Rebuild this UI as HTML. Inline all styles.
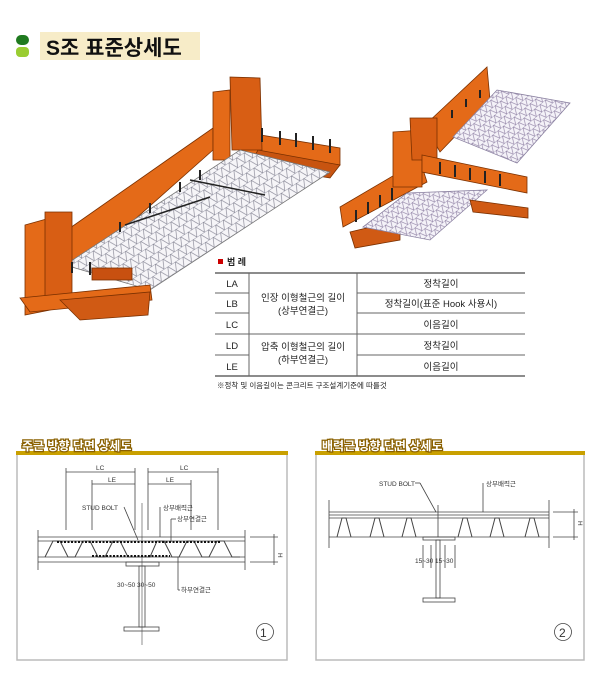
<!DOCTYPE html>
<html><head><meta charset="utf-8"><style>
html,body{margin:0;padding:0;background:#fff;}
svg{display:block;}
text{font-family:"Liberation Sans","Noto Sans CJK KR",sans-serif;}
</style></head><body>
<svg width="600" height="683" viewBox="0 0 600 683" xmlns="http://www.w3.org/2000/svg">
<defs>
<pattern id="grid" width="9" height="9" patternUnits="userSpaceOnUse" patternTransform="rotate(-33)">
<rect width="9" height="9" fill="#f6f5f8"/>
<path d="M0 0H9" stroke="#8a8a9a" stroke-width="0.8"/>
<path d="M0 9L4.5 0L9 9" stroke="#7a7a8a" stroke-width="0.6" fill="none"/>
</pattern>
<pattern id="grid2" width="7" height="7" patternUnits="userSpaceOnUse" patternTransform="rotate(-40)">
<rect width="7" height="7" fill="#f4f2f8"/>
<path d="M0 0H7" stroke="#9a90b0" stroke-width="0.8"/>
<path d="M0 7L3.5 0L7 7" stroke="#8a7aa0" stroke-width="0.6" fill="none"/>
</pattern>
</defs>
<!-- header -->
<rect x="16" y="35" width="13" height="10" rx="5" fill="#1f7a1f"/>
<rect x="16" y="47" width="13" height="10" rx="4" fill="#9acd32"/>
<rect x="40" y="32" width="160" height="28" fill="#f7ecc8"/>
<text x="46" y="55" font-size="21" font-weight="bold" fill="#111" font-family="Liberation Serif,'Noto Serif CJK SC',serif">S조 표준상세도</text>

<!-- left 3D -->
<g stroke="#7a3000" stroke-width="0.8" fill="#e46a18">
<polygon points="70,262 70,228 170,158 213,128 213,150 80,268"/>
<polygon points="242,132 340,148 340,165 242,152"/>
<polygon points="258,150 340,165 330,178 250,165" fill="#c85410"/>
<polygon points="213,92 230,90 230,160 213,160"/>
<polygon points="230,77 260,78 262,150 232,150" fill="#d85e14"/>
<polygon points="65,265 240,150 330,172 150,290" fill="url(#grid)" stroke="#777"/>
<polygon points="25,225 50,218 50,310 25,315"/>
<polygon points="45,212 72,212 72,300 45,302" fill="#d85e14"/>
<polygon points="20,298 150,285 152,300 30,312"/>
<polygon points="60,300 150,292 148,315 80,320" fill="#d05a14"/>
<rect x="92" y="268" width="40" height="12" fill="#c85010"/>
</g>
<g stroke="#222" stroke-width="2">
<line x1="262" y1="128" x2="262" y2="142"/><line x1="280" y1="131" x2="280" y2="145"/><line x1="296" y1="133" x2="296" y2="147"/><line x1="313" y1="136" x2="313" y2="150"/><line x1="330" y1="139" x2="330" y2="153"/>
<line x1="90" y1="262" x2="90" y2="275"/><line x1="72" y1="262" x2="72" y2="273"/>
<line x1="120" y1="222" x2="120" y2="232"/><line x1="150" y1="203" x2="150" y2="213"/><line x1="180" y1="182" x2="180" y2="192"/><line x1="200" y1="170" x2="200" y2="180"/>
<line x1="125" y1="225" x2="210" y2="197" stroke-width="1.5"/><line x1="190" y1="180" x2="265" y2="195" stroke-width="1.5"/>
</g>

<!-- right 3D -->
<g stroke="#7a3000" stroke-width="0.8" fill="#e46a18">
<polygon points="425,125 487,67 490,100 440,152"/>
<polygon points="453,137 497,90 570,103 517,163" fill="url(#grid2)" stroke="#8a80a0"/>
<polygon points="340,207 420,160 427,182 343,227"/>
<polygon points="350,232 400,220 400,240 355,248" fill="#d05a14"/>
<polygon points="363,227 407,193 487,190 430,240" fill="url(#grid2)" stroke="#8a80a0"/>
<polygon points="393,132 422,130 422,187 393,187"/>
<polygon points="410,118 437,118 437,160 412,160" fill="#d85e14"/>
<polygon points="422,155 527,177 527,193 422,172"/>
<polygon points="470,200 528,208 528,218 473,212" fill="#d05a14"/>
</g>
<g stroke="#222" stroke-width="2">
<line x1="440" y1="162" x2="440" y2="174"/><line x1="455" y1="165" x2="455" y2="177"/><line x1="470" y1="168" x2="470" y2="180"/><line x1="485" y1="171" x2="485" y2="183"/><line x1="500" y1="174" x2="500" y2="186"/>
<line x1="356" y1="210" x2="356" y2="222"/><line x1="368" y1="202" x2="368" y2="214"/><line x1="380" y1="195" x2="380" y2="207"/><line x1="392" y1="188" x2="392" y2="200"/>
<line x1="452" y1="110" x2="452" y2="118"/><line x1="466" y1="99" x2="466" y2="107"/><line x1="480" y1="90" x2="480" y2="98"/>
</g>

<!-- legend -->
<rect x="218" y="259" width="5" height="5" fill="#c00"/>
<text x="227" y="265" font-size="9" font-weight="bold" fill="#222">범 례</text>
<g stroke="#666" stroke-width="1">
<line x1="215" y1="273" x2="525" y2="273" stroke-width="1.5"/>
<line x1="215" y1="293" x2="249" y2="293"/><line x1="357" y1="293" x2="525" y2="293"/>
<line x1="215" y1="313" x2="249" y2="313"/><line x1="357" y1="313" x2="525" y2="313"/>
<line x1="215" y1="334" x2="525" y2="334"/>
<line x1="215" y1="355" x2="249" y2="355"/><line x1="357" y1="355" x2="525" y2="355"/>
<line x1="215" y1="376" x2="525" y2="376" stroke-width="1.5"/>
<line x1="249" y1="273" x2="249" y2="376"/><line x1="357" y1="273" x2="357" y2="376"/>
</g>
<g font-size="9.5" fill="#222" text-anchor="middle">
<text x="232" y="287">LA</text><text x="232" y="307">LB</text><text x="232" y="328">LC</text><text x="232" y="349">LD</text><text x="232" y="370">LE</text>
<text x="303" y="301">인장 이형철근의 길이</text><text x="303" y="314">(상부연결근)</text>
<text x="303" y="350">압축 이형철근의 길이</text><text x="303" y="363">(하부연결근)</text>
<text x="441" y="287">정착길이</text><text x="441" y="307">정착길이(표준 Hook 사용시)</text><text x="441" y="328">이음길이</text>
<text x="441" y="349">정착길이</text><text x="441" y="370">이음길이</text>
</g>
<text x="217" y="388" font-size="7.5" fill="#222">※정착 및 이음길이는 콘크리트 구조설계기준에 따를것</text>

<!-- panels -->
<g>
<rect x="17" y="452" width="270" height="208" fill="#fff" stroke="#bbb" stroke-width="1.5"/>
<rect x="16" y="451" width="272" height="4" fill="#c9a000"/>
<rect x="316" y="452" width="268" height="208" fill="#fff" stroke="#bbb" stroke-width="1.5"/>
<rect x="315" y="451" width="270" height="4" fill="#c9a000"/>
<g font-size="12" font-weight="bold" fill="#fff" stroke="#8a6000" stroke-width="2.5" paint-order="stroke">
<text x="22" y="450">주근 방향 단면 상세도</text>
<text x="322" y="450">배력근 방향 단면 상세도</text>
</g>
</g>

<!-- panel 1 drawing -->
<g stroke="#444" stroke-width="0.8" fill="none">
<line x1="38" y1="537" x2="245" y2="537"/><line x1="38" y1="541" x2="245" y2="541"/>
<line x1="38" y1="557" x2="245" y2="557"/><line x1="38" y1="562" x2="245" y2="562"/>
<line x1="38" y1="530" x2="38" y2="570"/><line x1="245" y1="530" x2="245" y2="570"/>
<path d="M45,557 L53,541 L60,541 L68,557 L75,557 L83,541 L90,541 L98,557 L105,557 L113,541 L120,541 L128,557 L135,557 L150,557 L157,541 L164,541 L172,557 L179,557 L187,541 L194,541 L202,557 L209,557 L217,541 L224,541 L232,557 L240,557" stroke-width="1"/>
<line x1="142" y1="503" x2="142" y2="645" stroke-width="0.6"/>
<rect x="126" y="562" width="33" height="4"/>
<rect x="139" y="566" width="6" height="61"/>
<rect x="124" y="627" width="35" height="4"/>
<line x1="66" y1="472" x2="135" y2="472"/><line x1="148" y1="472" x2="218" y2="472"/>
<line x1="92" y1="484" x2="135" y2="484"/><line x1="148" y1="484" x2="191" y2="484"/>
<line x1="66" y1="468" x2="66" y2="530"/><line x1="135" y1="468" x2="135" y2="530"/><line x1="148" y1="468" x2="148" y2="530"/><line x1="218" y1="468" x2="218" y2="530"/>
<line x1="92" y1="480" x2="92" y2="530"/><line x1="191" y1="480" x2="191" y2="530"/>
<line x1="250" y1="537" x2="278" y2="537"/><line x1="250" y1="562" x2="278" y2="562"/><line x1="274" y1="534" x2="274" y2="565"/>
<line x1="124" y1="507" x2="138" y2="540"/>
<line x1="160" y1="507" x2="160" y2="537"/>
<line x1="176" y1="519" x2="171" y2="519"/><line x1="171" y1="519" x2="171" y2="542"/>
<line x1="180" y1="590" x2="178" y2="590"/><line x1="178" y1="590" x2="178" y2="557"/>
<circle cx="265" cy="632" r="8.5"/>
</g>
<line x1="57" y1="542" x2="220" y2="542" stroke="#111" stroke-width="2" stroke-dasharray="2,1.5"/>
<line x1="92" y1="556" x2="170" y2="556" stroke="#111" stroke-width="2" stroke-dasharray="2,1.5"/>
<g font-size="6.5" fill="#333">
<text x="96" y="470">LC</text><text x="180" y="470">LC</text>
<text x="108" y="482">LE</text><text x="166" y="482">LE</text>
<text x="82" y="510">STUD BOLT</text>
<text x="163" y="510">상부배력근</text>
<text x="177" y="521">상부연결근</text>
<text x="117" y="587">30~50 30~50</text>
<text x="181" y="592">하부연결근</text>
<text x="278" y="553" transform="rotate(90 278 553)">H</text>
<text x="260" y="637" font-size="12">1</text>
</g>

<!-- panel 2 drawing -->
<g stroke="#444" stroke-width="0.8" fill="none">
<line x1="329" y1="512" x2="549" y2="512"/><line x1="329" y1="515" x2="549" y2="515"/><line x1="329" y1="518" x2="549" y2="518"/>
<line x1="329" y1="537" x2="549" y2="537"/>
<line x1="329" y1="500" x2="329" y2="548"/><line x1="549" y1="500" x2="549" y2="548"/>
<path d="M337,537 L342,518 L346,518 L351,537 M370,537 L375,518 L379,518 L384,537 M402,537 L407,518 L411,518 L416,537 M458,537 L463,518 L467,518 L472,537 M490,537 L495,518 L499,518 L504,537 M525,537 L530,518 L534,518 L539,537" stroke-width="1"/>
<line x1="438" y1="505" x2="438" y2="537"/>
<rect x="423" y="537" width="32" height="3"/>
<rect x="436" y="540" width="4" height="58"/>
<rect x="423" y="598" width="32" height="4"/>
<line x1="423" y1="545" x2="423" y2="568"/><line x1="431" y1="545" x2="431" y2="568"/><line x1="445" y1="545" x2="445" y2="568"/><line x1="455" y1="545" x2="455" y2="568"/>
<line x1="553" y1="512" x2="578" y2="512"/><line x1="553" y1="537" x2="578" y2="537"/><line x1="574" y1="509" x2="574" y2="540"/>
<line x1="415" y1="483" x2="420" y2="483"/><line x1="420" y1="483" x2="436" y2="512"/>
<line x1="483" y1="483" x2="483" y2="512"/>
<circle cx="563" cy="632" r="8.5"/>
</g>
<g font-size="6.5" fill="#333">
<text x="379" y="486">STUD BOLT</text>
<text x="486" y="486">상부배력근</text>
<text x="415" y="563">15~30 15~30</text>
<text x="578" y="521" transform="rotate(90 578 521)">H</text>
<text x="559" y="637" font-size="12">2</text>
</g>
</svg>
</body></html>
